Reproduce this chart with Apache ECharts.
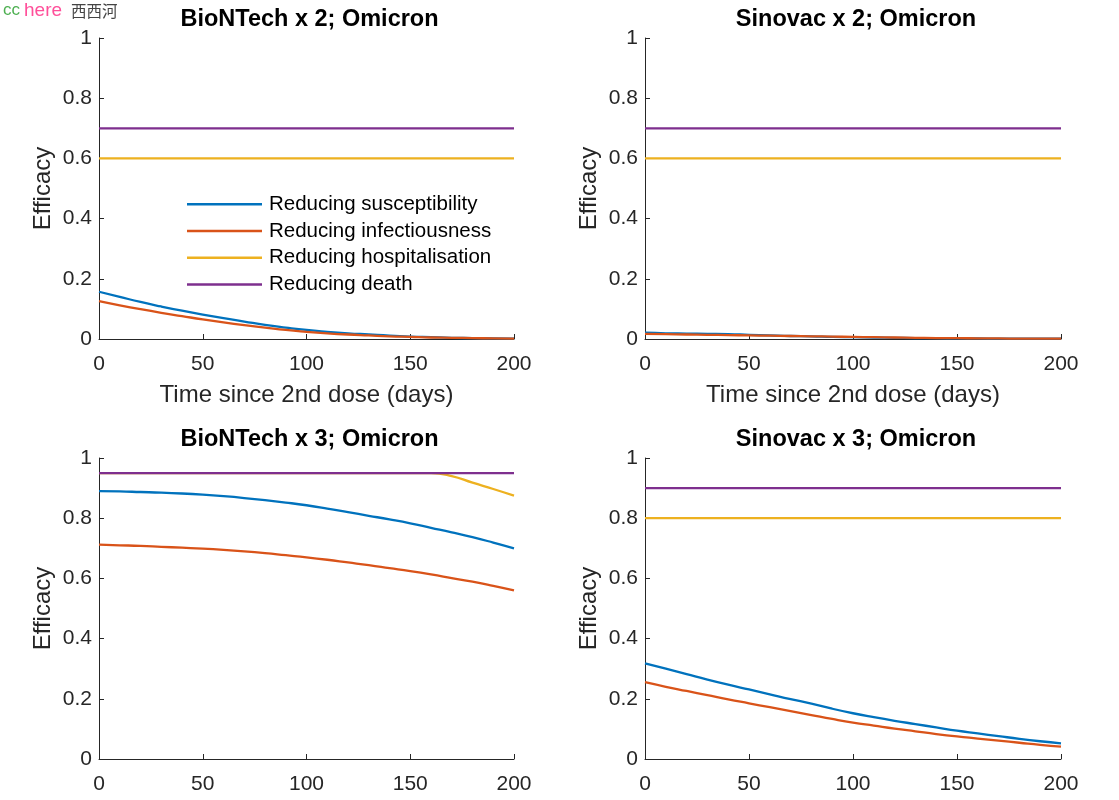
<!DOCTYPE html>
<html><head><meta charset="utf-8">
<script src="https://cdn.jsdelivr.net/npm/echarts@6/dist/echarts.min.js"></script>
<style>html,body{margin:0;padding:0;background:#fff}#c{width:1119px;height:800px}</style>
</head><body><div id="c"></div>
<script>
const days = [0,10,20,30,40,50,60,70,80,90,100,110,120,130,140,150,160,170,180,190,200];
const seriesNames = ['Reducing susceptibility','Reducing infectiousness','Reducing hospitalisation','Reducing death'];
const titles = ['BioNTech x 2; Omicron','Sinovac x 2; Omicron','BioNTech x 3; Omicron','Sinovac x 3; Omicron'];
const xTicks = [0,50,100,150,200];
const yTicks = [0,0.2,0.4,0.6,0.8,1];

// BioNTech x 2
const bnt2Susc = [0.157,0.140,0.123,0.108,0.094,0.081,0.069,0.058,0.047,0.038,0.030,0.024,0.019,0.015,0.011,0.008,0.006,0.004,0.003,0.002,0.001];
const bnt2Inf  = [0.126,0.112,0.099,0.087,0.076,0.065,0.055,0.046,0.038,0.030,0.024,0.019,0.015,0.012,0.009,0.007,0.005,0.004,0.003,0.002,0.001];
const bnt2Hosp = [0.6,0.6,0.6,0.6,0.6,0.6,0.6,0.6,0.6,0.6,0.6,0.6,0.6,0.6,0.6,0.6,0.6,0.6,0.6,0.6,0.6];
const bnt2Death= [0.7,0.7,0.7,0.7,0.7,0.7,0.7,0.7,0.7,0.7,0.7,0.7,0.7,0.7,0.7,0.7,0.7,0.7,0.7,0.7,0.7];
// Sinovac x 2
const sv2Susc = [0.021,0.019,0.018,0.017,0.016,0.014,0.012,0.010,0.009,0.007,0.006,0.005,0.004,0.003,0.003,0.002,0.002,0.001,0.001,0.001,0.001];
const sv2Inf  = [0.017,0.016,0.015,0.014,0.013,0.012,0.011,0.010,0.009,0.008,0.007,0.006,0.005,0.004,0.003,0.003,0.002,0.002,0.001,0.001,0.001];
const sv2Hosp = [0.6,0.6,0.6,0.6,0.6,0.6,0.6,0.6,0.6,0.6,0.6,0.6,0.6,0.6,0.6,0.6,0.6,0.6,0.6,0.6,0.6];
const sv2Death= [0.7,0.7,0.7,0.7,0.7,0.7,0.7,0.7,0.7,0.7,0.7,0.7,0.7,0.7,0.7,0.7,0.7,0.7,0.7,0.7,0.7];
// BioNTech x 3
const bnt3Susc = [0.890,0.889,0.887,0.885,0.882,0.878,0.873,0.867,0.860,0.852,0.843,0.832,0.820,0.808,0.796,0.783,0.768,0.753,0.737,0.719,0.700];
const bnt3Inf  = [0.712,0.710,0.708,0.705,0.702,0.699,0.695,0.690,0.684,0.677,0.670,0.662,0.653,0.644,0.634,0.624,0.613,0.601,0.589,0.575,0.560];
const bnt3Hosp = [0.95,0.95,0.95,0.95,0.95,0.95,0.95,0.95,0.95,0.95,0.95,0.95,0.95,0.95,0.95,0.95,0.95,0.94,0.918,0.897,0.875];
const bnt3Death= [0.95,0.95,0.95,0.95,0.95,0.95,0.95,0.95,0.95,0.95,0.95,0.95,0.95,0.95,0.95,0.95,0.95,0.95,0.95,0.95,0.95];
// Sinovac x 3
const sv3Susc = [0.318,0.300,0.282,0.264,0.247,0.231,0.215,0.199,0.184,0.167,0.152,0.139,0.127,0.116,0.105,0.094,0.085,0.076,0.067,0.059,0.052];
const sv3Inf  = [0.255,0.240,0.226,0.212,0.198,0.185,0.172,0.159,0.146,0.133,0.121,0.111,0.101,0.092,0.083,0.075,0.068,0.061,0.054,0.047,0.041];
const sv3Hosp = [0.8,0.8,0.8,0.8,0.8,0.8,0.8,0.8,0.8,0.8,0.8,0.8,0.8,0.8,0.8,0.8,0.8,0.8,0.8,0.8,0.8];
const sv3Death= [0.9,0.9,0.9,0.9,0.9,0.9,0.9,0.9,0.9,0.9,0.9,0.9,0.9,0.9,0.9,0.9,0.9,0.9,0.9,0.9,0.9];

const panels = [
  [bnt2Susc,bnt2Inf,bnt2Hosp,bnt2Death],
  [sv2Susc,sv2Inf,sv2Hosp,sv2Death],
  [bnt3Susc,bnt3Inf,bnt3Hosp,bnt3Death],
  [sv3Susc,sv3Inf,sv3Hosp,sv3Death]
];
const colors = ['#0072BD','#D95319','#EDB120','#7E2F8E'];
const FONT = '"Liberation Sans", Arial, Helvetica, sans-serif';
const AX = '#262626';

const grids = [
  {left:99, top:38, width:415, height:301},
  {left:645, top:38, width:416, height:301},
  {left:99, top:458, width:415, height:301},
  {left:645, top:458, width:416, height:301}
];

const xAxes = [], yAxes = [], series = [], titleArr = [];
grids.forEach((g,i)=>{
  xAxes.push({
    type:'value', gridIndex:i, min:0, max:200, interval:50,
    name: i<2 ? 'Time since 2nd dose (days)' : '',
    nameLocation:'middle', nameGap:44,
    nameTextStyle:{fontFamily:FONT, fontSize:24, color:AX},
    axisLine:{show:true, onZero:false, lineStyle:{color:AX, width:1}},
    axisTick:{show:true, inside:true, length:5, lineStyle:{color:AX}},
    axisLabel:{fontFamily:FONT, fontSize:21, color:AX, margin:15},
    splitLine:{show:false}
  });
  yAxes.push({
    type:'value', gridIndex:i, min:0, max:1, interval:0.2,
    name:'Efficacy', nameLocation:'middle', nameGap:44,
    nameTextStyle:{fontFamily:FONT, fontSize:24, color:AX},
    axisLine:{show:true, onZero:false, lineStyle:{color:AX, width:1}},
    axisTick:{show:true, inside:true, length:5, lineStyle:{color:AX}},
    axisLabel:{fontFamily:FONT, fontSize:21, color:AX, margin:7,
      formatter:v=>{ const r=Math.round(v*10)/10; return r===0?'0':(r===1?'1':String(r)); }},
    splitLine:{show:false}
  });
  titleArr.push({
    text:titles[i], left:g.left+g.width/2 + 3, top:g.top-30, textAlign:'center', padding:0,
    textStyle:{fontFamily:FONT, fontSize:23.5, fontWeight:'bold', color:'#000'}
  });
  panels[i].forEach((vals,k)=>{
    series.push({
      type:'line', name:seriesNames[k], xAxisIndex:i, yAxisIndex:i,
      data: days.map((d,j)=>[d, vals[j]]),
      showSymbol:false, symbol:'none', smooth:true, z: k===3?3:2,
      lineStyle:{color:colors[k], width:2.3}, itemStyle:{color:colors[k]},
      animation:false
    });
  });
});

const chart = echarts.init(document.getElementById('c'), null, {renderer:'canvas'});
chart.setOption({
  backgroundColor:'#fff',
  animation:false,
  title:titleArr,
  grid:grids,
  xAxis:xAxes,
  yAxis:yAxes,
  legend:{
    data:seriesNames.map((n,k)=>({name:n, icon:'rect', itemStyle:{color:colors[k]}})),
    orient:'vertical', left:187, top:191, itemGap:0, padding:0,
    itemWidth:75, itemHeight:2.5,
    textStyle:{fontFamily:FONT, fontSize:20.5, color:'#000', lineHeight:26.7, padding:[0,0,0,2]},
    selectedMode:false
  },
  graphic:[
    {type:'text', left:3, top:2, style:{text:'cc', fill:'#4caf50', fontSize:17, fontFamily:FONT}},
    {type:'text', left:24, top:1, style:{text:'here', fill:'#ff4f9a', fontSize:19, fontFamily:FONT}},
    {type:'text', left:71, top:3, style:{text:'西西河', fill:'#444', fontSize:15.5, fontFamily:'"Noto Sans CJK SC", sans-serif'}}
  ],
  series:series
});
</script></body></html>
